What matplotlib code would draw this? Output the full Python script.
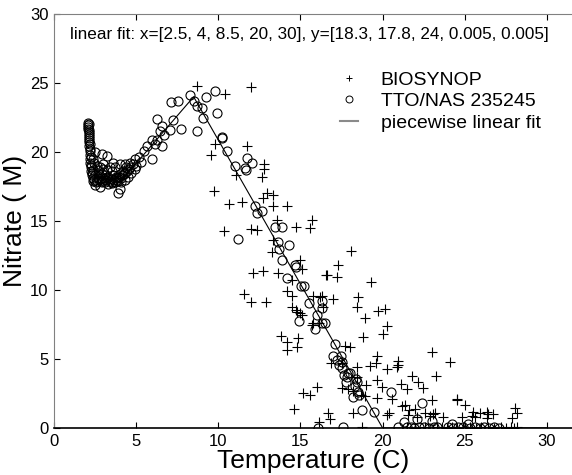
import numpy as np
import matplotlib.pyplot as plt
from matplotlib.lines import Line2D

plt.rcParams['font.family'] = ['Liberation Sans', 'DejaVu Sans']

# BIOSYNOP samples (temperature C, nitrate uM)
bio_t = [8.7, 10.4, 12.0, 9.8, 9.55, 11.75, 11.1, 12.8, 12.8, 12.65,
         9.75, 10.65, 11.45, 12.95, 13.3, 12.7, 13.3, 14.2, 14.7, 13.55,
         10.35, 12.0, 12.35, 15.7, 15.6,
         13.3, 13.25, 12.1, 12.7, 13.65, 11.55, 12.0, 12.9, 14.2, 14.5,
         14.5, 14.8, 13.8, 14.2, 14.2, 14.8, 14.85, 14.6,
         15.0, 15.1, 16.6, 14.7, 15.0, 15.75, 16.2, 14.5, 18.1, 17.3,
         17.2, 16.55, 19.3, 18.5, 18.45, 18.9, 19.7, 20.15, 20.25, 17.0,
         16.3, 16.4, 15.1, 15.7, 16.1, 15.75,
         20.0, 18.8, 18.0, 17.7, 19.65, 18.45, 20.95, 20.95, 20.25, 20.9,
         23.0, 24.1, 23.25, 21.8, 21.1, 21.5, 22.15, 22.45, 19.65, 19.95,
         19.0, 17.55, 17.9, 18.2, 19.6, 19.25, 16.85, 17.5, 18.45, 18.7,
         18.9,
         19.65, 20.6, 21.35, 23.0, 24.5, 24.55, 25.0, 25.5, 25.9, 26.35,
         26.7, 28.05, 28.2, 27.9, 24.85, 23.7, 23.2, 22.6, 22.1, 21.55,
         20.25, 20.4, 15.15, 15.6, 16.0, 16.7, 16.8, 16.1, 18.2, 18.75,
         21.2, 21.6, 21.95, 22.9, 23.05, 25.45, 25.6, 26.4, 26.35,
         21.5, 22.0, 22.6, 23.3, 23.6, 23.9, 24.2, 24.5, 24.9, 25.3,
         25.7, 26.0, 26.4, 26.8, 27.2, 27.5, 27.8, 28.0, 28.2]
bio_n = [24.8, 24.2, 24.7, 20.6, 19.8, 20.4, 18.3, 19.1, 18.8, 18.2,
         17.2, 16.2, 16.4, 17.0, 16.9, 16.7, 16.1, 16.1, 14.6, 15.1,
         14.3, 14.4, 14.35, 15.1, 14.5,
         13.6, 12.75, 11.2, 11.4, 11.2, 9.7, 9.1, 9.1, 9.9, 9.6,
         8.8, 8.4, 6.7, 6.2, 5.65, 5.9, 6.5, 1.4,
         12.2, 11.5, 11.1, 8.55, 8.3, 9.55, 9.5, 10.7, 12.8, 11.8,
         10.95, 11.1, 10.6, 9.5, 8.8, 8.0, 8.5, 8.6, 7.4, 9.35,
         9.55, 8.8, 8.2, 7.45, 7.6, 7.6,
         6.8, 6.6, 5.9, 5.95, 5.2, 4.4, 4.85, 4.6, 4.3, 4.4,
         5.5, 4.8, 3.8, 3.8, 3.2, 2.8, 3.3, 2.9, 3.5, 3.0,
         3.1, 2.9, 2.85, 2.7, 4.7, 4.5, 4.7, 4.7, 3.7, 2.4,
         2.35,
         2.2, 2.1, 1.7, 2.05, 2.1, 2.0, 1.7, 1.15, 1.1, 1.15,
         1.0, 1.45, 1.1, 0.7, 0.8, 0.8, 1.1, 1.1, 0.8, 0.95,
         0.95, 1.1, 2.55, 2.4, 2.95, 1.1, 0.65, 0.45, 1.1, 0.05,
         1.6, 1.3, 1.35, 0.9, 1.0, 0.9, 0.8, 1.0, 0.7,
         0.1, 0.0, 0.05, 0.1, 0.05, 0.0, 0.1, 0.0, 0.05, 0.1,
         0.0, 0.05, 0.1, 0.0, 0.05, 0.0, 0.05, 0.0, 0.05]

# TTO/NAS station 235245
tto_t = [2.05, 2.1, 2.08, 2.12, 2.1, 2.15, 2.12, 2.15, 2.18, 2.2,
         2.2, 2.22, 2.25, 2.25, 2.3, 2.35, 2.4,
         2.06, 2.09, 2.11, 2.14, 2.16, 2.19, 2.21, 2.24, 2.28, 2.32,
         2.5, 2.8, 2.6, 2.9, 3.1, 3.3, 3.5, 3.7, 3.9, 4.0,
         3.9, 4.1, 4.3, 4.5, 4.7, 4.9,
         2.45, 2.55, 2.65, 2.75, 2.85, 2.95, 3.05, 3.15, 3.25, 3.4,
         3.45, 3.55, 3.65, 3.75, 3.85, 3.95, 4.05, 4.15, 4.25, 4.35,
         4.45, 4.55, 4.65, 4.8, 2.35, 2.45, 2.7, 3.0, 3.2, 3.5,
         2.5, 2.7, 2.9, 3.1, 3.3, 3.6, 3.8, 4.0, 4.2, 4.4,
         2.6, 2.8, 3.0, 3.4, 3.7, 2.4, 2.5,
         2.9, 3.2, 3.6, 4.0, 4.35, 4.6, 4.9, 5.2, 5.45, 5.65,
         5.95, 6.25, 6.15, 5.95, 6.6, 5.0, 5.3,
         6.25, 6.55, 6.45, 6.7, 7.05, 7.25, 7.1, 7.55, 7.75, 8.3,
         8.5, 8.7, 9.0, 9.05, 8.7, 9.25, 9.8, 9.9, 10.2, 10.22,
         10.55, 11.0, 11.6, 11.7, 12.05, 11.75, 12.25, 12.35, 12.65, 13.45,
         13.85, 11.2, 13.65, 13.7, 14.3, 13.85, 14.2, 14.65, 14.75, 15.05,
         15.2, 15.5, 16.3, 16.3, 16.0, 14.9, 15.9, 16.5, 16.3, 17.1,
         17.0, 17.2, 17.5, 17.45, 17.35, 17.55, 17.65, 17.85, 17.9, 18.0,
         17.8, 18.4, 18.45, 18.3, 18.5, 18.55, 18.2, 18.75, 19.5, 20.5,
         22.4, 22.1, 23.0, 16.05, 17.6, 20.95,
         21.5, 21.7, 21.9, 22.2, 22.5, 22.8, 23.1, 23.3, 24.0, 24.3,
         24.6, 24.9, 25.3, 25.6, 25.9, 26.2, 26.5, 26.8, 27.1, 21.3,
         24.2, 25.2]
tto_n = [22.1, 22.0, 21.8, 21.6, 21.3, 21.0, 20.7, 20.4, 20.1, 19.8,
         19.5, 19.2, 18.9, 18.6, 18.3, 18.1, 17.9,
         21.95, 21.7, 21.45, 21.15, 20.85, 20.55, 20.25, 19.65, 19.05, 18.45,
         17.6, 17.5, 17.9, 17.8, 17.8, 17.7, 17.75, 17.8, 17.05, 17.3,
         17.9, 17.85, 18.0, 18.2, 18.5, 18.8,
         18.0, 17.85, 18.1, 17.95, 18.15, 17.9, 18.05, 17.95, 18.1, 17.9,
         18.05, 17.85, 18.0, 18.1, 17.95, 18.2, 18.1, 18.3, 18.4, 18.5,
         18.6, 18.75, 18.9, 19.1, 18.7, 19.2, 18.7, 18.8, 18.7, 18.6,
         18.3, 18.5, 18.4, 18.3, 18.2, 18.3, 18.2, 18.4, 18.6, 18.9,
         19.0, 18.9, 19.1, 18.9, 18.9, 19.5, 20.0,
         19.85, 19.7, 19.2, 19.1, 19.15, 19.2, 19.5, 19.65, 20.1, 20.4,
         20.9, 20.9, 20.6, 19.5, 20.4, 19.0, 19.3,
         22.4, 21.9, 21.5, 21.2, 21.6, 22.3, 23.6, 23.7, 21.7, 24.1,
         23.7, 23.3, 23.2, 22.5, 21.5, 24.0, 24.4, 22.8, 21.1, 21.05,
         20.1, 19.0, 18.85, 18.7, 19.2, 19.55, 16.1, 15.6, 15.7, 14.6,
         14.6, 13.7, 13.5, 13.0, 13.25, 12.2, 10.9, 11.8, 11.7, 10.3,
         10.3, 9.05, 9.2, 8.7, 8.2, 7.75, 7.15, 7.6, 7.6, 6.1,
         5.2, 4.9, 4.8, 5.2, 4.55, 4.35, 3.85, 3.7, 4.0, 4.0,
         3.3, 3.55, 3.3, 3.05, 2.6, 2.4, 2.25, 1.3, 1.15, 2.6,
         1.8, 0.65, 0.5, 0.0, 0.05, 0.05,
         0.1, 0.05, 0.0, 0.1, 0.05, 0.0, 0.05, 0.1, 0.05, 0.0,
         0.05, 0.1, 0.0, 0.05, 0.0, 0.05, 0.0, 0.05, 0.0, 0.4,
         0.3, 0.3]

# piecewise linear fit nodes
fit_x = [2.5, 4, 8.5, 20, 30]
fit_y = [18.3, 17.8, 24, 0.005, 0.005]

fig = plt.figure(figsize=(5.72, 4.75), dpi=100)
ax = fig.add_axes([54/572, 47/475, 518/572, 414/475])

ax.plot(bio_t, bio_n, '+', color='black', markersize=7, markeredgewidth=0.8)
ax.plot(tto_t, tto_n, 'o', mfc='none', mec='black', markersize=6.5, markeredgewidth=0.8)
ax.plot(fit_x, fit_y, '-', color='black', linewidth=0.8)

ax.set_xlim(0, 31.53)
ax.set_ylim(0, 30)
ax.set_xticks([0, 5, 10, 15, 20, 25, 30])
ax.set_yticks([0, 5, 10, 15, 20, 25, 30])
ax.tick_params(direction='in', length=4, labelsize=12, top=True, right=False, pad=4)
ax.spines['right'].set_visible(False)
ax.spines['left'].set_color('#808080')
ax.spines['top'].set_color('#808080')
ax.spines['bottom'].set_linewidth(1.2)

ax.set_xlabel('Temperature (C)', fontsize=19, labelpad=0)
ax.set_ylabel('Nitrate ( M)', fontsize=19, labelpad=2)

ax.text(1.0, 28.5, 'linear fit: x=[2.5, 4, 8.5, 20, 30], y=[18.3, 17.8, 24, 0.005, 0.005]',
        fontsize=12.3, va='center', ha='left')

handles = [Line2D([], [], ls='none', marker='+', color='black', markersize=5, markeredgewidth=0.7),
           Line2D([], [], ls='none', marker='o', mfc='none', mec='black', markersize=5, markeredgewidth=0.7),
           Line2D([], [], color='#8a8a8a', linewidth=1.5)]
fig.legend(handles, ['BIOSYNOP', 'TTO/NAS 235245', 'piecewise linear fit'],
           loc='upper left', bbox_to_anchor=(340/572, 1 - 71/475), frameon=False,
           fontsize=14, handlelength=0.9, handletextpad=1.2, labelspacing=0.2,
           borderpad=0, borderaxespad=0)

fig.savefig('out.png', dpi=100)
